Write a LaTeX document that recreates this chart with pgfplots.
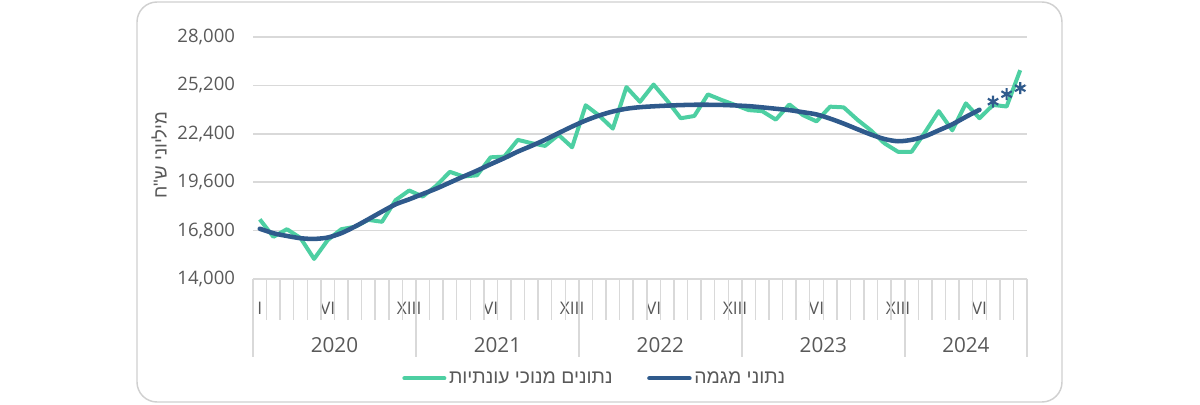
\documentclass[border=0pt]{standalone}
\usepackage{pgfplots}
\pgfplotsset{compat=1.18}
\usepackage{pgfplotstable}
\usepackage{fontspec}
\setmainfont{Open Sans}
\newfontfamily\hebfont[Script=Hebrew]{Liberation Sans}
\TeXXeTstate=1
\definecolor{grn}{HTML}{4DCFA2}
\definecolor{blu}{HTML}{2F5A8C}
\definecolor{txt}{HTML}{595959}
\definecolor{grd}{HTML}{D9D9D9}
\definecolor{frm}{HTML}{D0D0D0}

\pgfplotstableread{
m v
1 17450
2 16440
3 16880
4 16370
5 15160
6 16250
7 16880
8 17020
9 17420
10 17310
11 18560
12 19120
13 18770
14 19400
15 20200
16 19930
17 20000
18 21040
19 21080
20 22050
21 21860
22 21700
23 22340
24 21620
25 24050
26 23450
27 22700
28 25100
29 24250
30 25250
31 24320
32 23300
33 23430
34 24680
35 24360
36 24070
37 23770
38 23710
39 23220
40 24100
41 23480
42 23120
43 23970
44 23930
45 23220
46 22600
47 21850
48 21360
49 21360
50 22500
51 23710
52 22600
53 24160
54 23300
55 24070
56 23980
57 26080
}\sa

\pgfplotstableread{
m v
1 16910
2 16650
3 16490
4 16360
5 16320
6 16400
7 16650
8 17030
9 17460
10 17900
11 18320
12 18610
13 18920
14 19230
15 19580
16 19930
17 20270
18 20640
19 20990
20 21370
21 21700
22 22050
23 22440
24 22820
25 23170
26 23460
27 23690
28 23850
29 23940
30 23990
31 24030
32 24060
33 24080
34 24080
35 24070
36 24040
37 24000
38 23930
39 23850
40 23770
41 23650
42 23520
43 23280
44 22990
45 22670
46 22360
47 22100
48 21970
49 22050
50 22260
51 22600
52 22950
53 23380
54 23790
}\trend

\pgfplotstableread{
m v
55 24260
56 24690
57 25040
}\stars

\begin{document}
\begin{tikzpicture}[x=1pt,y=1pt]
\path (0,0) rectangle (900,303);
\draw[frm, line width=1.1pt, rounded corners=15pt] (102.75,1.5) rectangle (796.5,301.5);
\begin{axis}[
  at={(189.75pt,93.75pt)}, anchor=south west,
  scale only axis, width=580.5pt, height=181.5pt,
  xmin=0.5, xmax=57.5, ymin=14000, ymax=28000,
  ytick={14000,16800,19600,22400,25200,28000},
  scaled y ticks=false,
  ymajorgrids, grid style={grd, line width=1.1pt},
  axis line style={draw=none},
  major tick length=0pt,
  xtick={1,6,12,18,24,30,36,42,48,54},
  xticklabels={I,VI,XIII,VI,XIII,VI,XIII,VI,XIII,VI},
  xticklabel style={font=\fontsize{13}{15}\selectfont, text=txt, yshift=-14pt},
  yticklabel style={font=\fontsize{13.9}{16}\selectfont, text=txt, xshift=-10pt,
     /pgf/number format/.cd, 1000 sep={,}, fixed, precision=0, assume math mode=true},
  clip=false,
  legend style={at={(0.442,-0.41)}, anchor=center, draw=none, fill=none,
     legend columns=2, font=\hebfont\fontsize{14.5}{17}\selectfont, text=txt,
     /tikz/every even column/.append style={column sep=24pt}},
  legend image code/.code={\draw[#1, line cap=round] (0pt,0pt) -- (30pt,0pt);},
]
\pgfplotsinvokeforeach{1.5,2.5,...,56.5}{\draw[grd, line width=1.1pt] (axis cs:#1,14000) -- ++(0pt,-30.75pt);}
\pgfplotsinvokeforeach{0.5,12.5,24.5,36.5,48.5,57.5}{\draw[grd, line width=1.1pt] (axis cs:#1,14000) -- ++(0pt,-58.5pt);}
\addplot[grn, line width=3pt, line join=round] table[x=m,y=v] {\sa};
\addlegendentry{\beginR נתונים מנוכי עונתיות\endR}
\addplot[blu, line width=3.4pt, smooth, line cap=round] table[x=m,y=v] {\trend};
\addlegendentry{\beginR נתוני מגמה\endR}
\addplot[blu, only marks, mark=asterisk, mark size=4.5pt, mark options={line width=1.6pt}, forget plot] table[x=m,y=v] {\stars};
\node[text=txt, font=\fontsize{15.5}{18}\selectfont] at (axis cs:6.5,14000) [yshift=-49.5pt] {2020};
\node[text=txt, font=\fontsize{15.5}{18}\selectfont] at (axis cs:18.5,14000) [yshift=-49.5pt] {2021};
\node[text=txt, font=\fontsize{15.5}{18}\selectfont] at (axis cs:30.5,14000) [yshift=-49.5pt] {2022};
\node[text=txt, font=\fontsize{15.5}{18}\selectfont] at (axis cs:42.5,14000) [yshift=-49.5pt] {2023};
\node[text=txt, font=\fontsize{15.5}{18}\selectfont] at (axis cs:53,14000) [yshift=-49.5pt] {2024};
\end{axis}
\node[rotate=90, text=txt, font=\hebfont\fontsize{14}{16}\selectfont] at (119.5,186.75) {\beginR מיליוני ש"ח\endR};
\end{tikzpicture}
\end{document}
